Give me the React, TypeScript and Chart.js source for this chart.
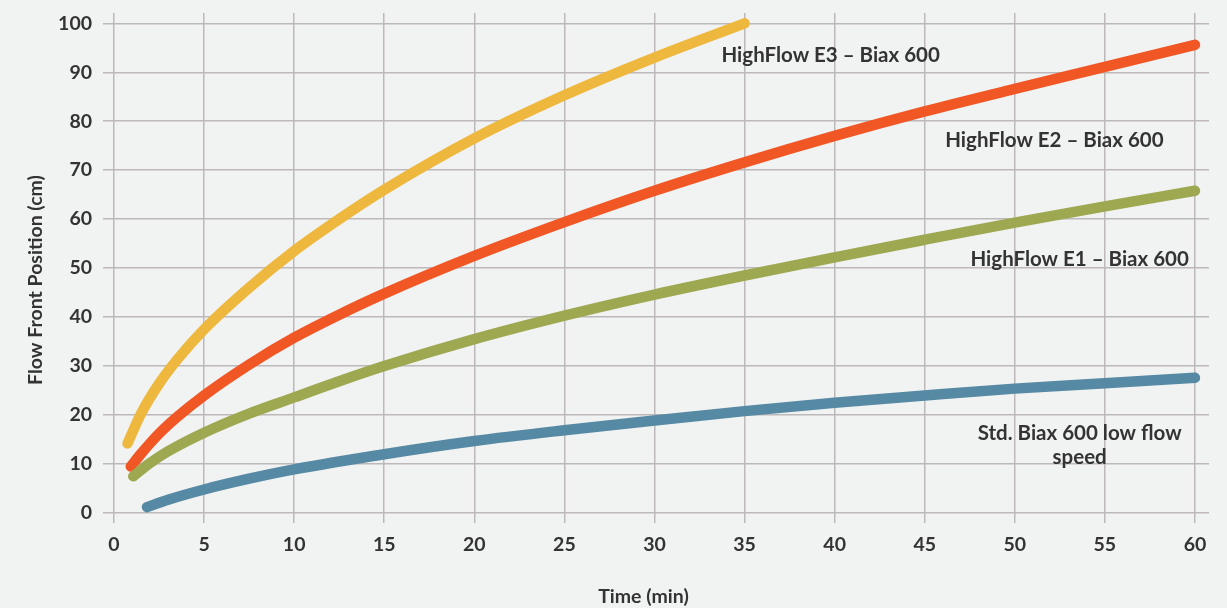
import React, { useEffect, useRef } from "react";
import { Chart, registerables } from "chart.js";

Chart.register(...registerables);

// ---- data ----
const E3_X = [0.75, 1.5, 2.5, 3.5, 5, 7.5, 10, 12.5, 15, 20, 25, 30, 35];
const E3_Y = [14.2, 20.3, 26.4, 31.3, 37.5, 46, 53.5, 60, 66, 76.5, 85.3, 93, 100];

const E2_X = [0.93, 1.5, 2.5, 3.5, 5, 7.5, 10, 12.5, 15, 20, 25, 30, 35, 40, 45, 50, 55, 60];
const E2_Y = [9.5, 12.1, 16.2, 19.6, 24, 30.3, 35.8, 40.5, 44.8, 52.5, 59.4, 65.8, 71.6, 77, 82, 86.6, 91.1, 95.6];

const E1_X = [1.07, 2, 3, 5, 7.5, 10, 12.5, 15, 20, 25, 30, 35, 40, 45, 50, 55, 60];
const E1_Y = [7.5, 10.2, 12.6, 16.4, 20.3, 23.6, 26.9, 30, 35.5, 40.3, 44.6, 48.5, 52.2, 55.8, 59.3, 62.6, 65.8];

const STD_X = [1.83, 3, 5, 7.5, 10, 15, 20, 25, 30, 35, 40, 45, 50, 55, 60];
const STD_Y = [1.2, 2.7, 4.8, 7.0, 8.9, 12.0, 14.7, 16.9, 18.9, 20.8, 22.5, 24.0, 25.4, 26.5, 27.6];

const X_TICKS = [0, 5, 10, 15, 20, 25, 30, 35, 40, 45, 50, 55, 60];
const Y_TICKS = [0, 10, 20, 30, 40, 50, 60, 70, 80, 90, 100];

const SERIES_NAMES = ["Std. Biax 600 low flow speed", "HighFlow E1 – Biax 600", "HighFlow E2 – Biax 600", "HighFlow E3 – Biax 600"];

const X_TITLE = "Time (min)";
const Y_TITLE = "Flow Front Position (cm)";

// ---- styles / annotation placement (data units) ----
const COLORS = ["#5689a3", "#9ea851", "#f15625", "#eeb83e"];
const TEXT_COLOR = "#333333";
const GRID_COLOR = "#bdb8ba";
const FONT = "Lato";

const ANNOTATIONS = [
  { lines: ["HighFlow E3 – Biax 600"], x: 39.78, y: 93.5 },
  { lines: ["HighFlow E2 – Biax 600"], x: 52.2, y: 76.1 },
  { lines: ["HighFlow E1 – Biax 600"], x: 53.6, y: 51.7 },
  { lines: ["Std. Biax 600 low flow", "speed"], x: 53.6, y: 16.3 },
];

const pts = (xs: number[], ys: number[]) => xs.map((x, i) => ({ x, y: ys[i] }));

const textPlugin = {
  id: "textPlugin",
  afterDatasetsDraw(chart: any) {
    const { ctx, scales } = chart;
    const xs = scales.x;
    const ys = scales.y;
    ctx.save();
    ctx.fillStyle = TEXT_COLOR;
    ctx.textAlign = "center";
    ctx.textBaseline = "middle";
    ctx.font = `700 20.5px ${FONT}`;
    ANNOTATIONS.forEach((a) => {
      const px = xs.getPixelForValue(a.x);
      const py = ys.getPixelForValue(a.y);
      a.lines.forEach((l, i) => ctx.fillText(l, px, py + i * 24));
    });
    // axis titles
    ctx.font = `700 19.5px ${FONT}`;
    ctx.fillText(X_TITLE, 643.5, 597);
    ctx.translate(36, 280);
    ctx.rotate(-Math.PI / 2);
    ctx.fillText(Y_TITLE, 0, 0);
    ctx.restore();
  },
};

export default function App() {
  const ref = useRef<HTMLCanvasElement | null>(null);
  useEffect(() => {
    if (!ref.current) return;
    const datasets = [
      { label: SERIES_NAMES[0], data: pts(STD_X, STD_Y), borderColor: COLORS[0] },
      { label: SERIES_NAMES[1], data: pts(E1_X, E1_Y), borderColor: COLORS[1] },
      { label: SERIES_NAMES[2], data: pts(E2_X, E2_Y), borderColor: COLORS[2] },
      { label: SERIES_NAMES[3], data: pts(E3_X, E3_Y), borderColor: COLORS[3] },
    ].map((d) => ({
      ...d,
      borderWidth: 10.5,
      borderCapStyle: "round" as const,
      borderJoinStyle: "round" as const,
      pointRadius: 0,
      pointHoverRadius: 0,
      cubicInterpolationMode: "monotone" as const,
      fill: false,
      clip: false as any,
    }));
    const tickFont = { family: FONT, size: 19.5, weight: "bold" as const };
    const chart = new Chart(ref.current, {
      type: "line",
      data: { datasets },
      options: {
        animation: false,
        responsive: true,
        maintainAspectRatio: false,
        layout: { padding: { top: 13, right: 18, left: 0, bottom: 0 } },
        plugins: { legend: { display: false }, tooltip: { enabled: false }, title: { display: false } },
        scales: {
          x: {
            type: "linear",
            min: 0,
            max: 60.78,
            afterBuildTicks: (s: any) => {
              s.ticks = X_TICKS.map((v) => ({ value: v }));
            },
            afterFit: (s: any) => {
              s.height = 95;
              s.paddingLeft = 0;
              s.paddingRight = 0;
            },
            grid: { color: GRID_COLOR, lineWidth: 1.5, tickLength: 10, drawOnChartArea: true },
            border: { display: false },
            ticks: { font: tickFont, color: TEXT_COLOR, padding: 10, maxRotation: 0, autoSkip: false },
          },
          y: {
            type: "linear",
            min: 0,
            max: 102.1,
            afterBuildTicks: (s: any) => {
              s.ticks = Y_TICKS.map((v) => ({ value: v }));
            },
            afterFit: (s: any) => {
              s.width = 114;
              s.paddingTop = 0;
              s.paddingBottom = 0;
            },
            grid: { color: GRID_COLOR, lineWidth: 1.5, tickLength: 11 },
            border: { display: false },
            ticks: { font: tickFont, color: TEXT_COLOR, padding: 11, autoSkip: false },
          },
        },
      },
      plugins: [textPlugin],
    });
    return () => chart.destroy();
  }, []);
  return (
    <div style={{ position: "fixed", left: 0, top: 0, width: 1227, height: 608, background: "#f1f2f2" }}>
      <canvas ref={ref} />
    </div>
  );
}
